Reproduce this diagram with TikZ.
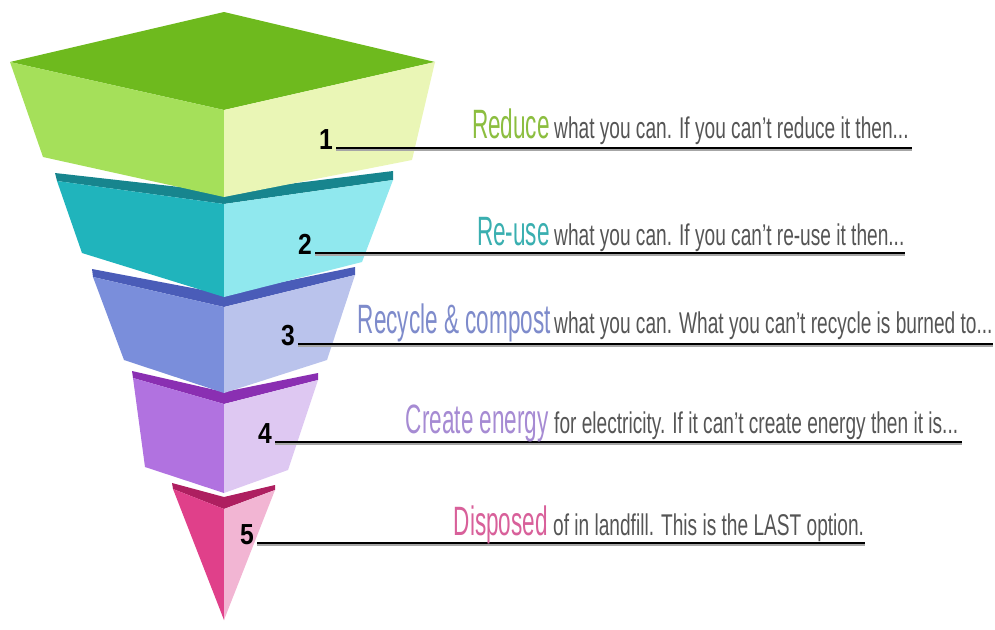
\documentclass[tikz,border=0pt]{standalone}
\usepackage{fontspec}
\setmainfont{Liberation Sans}
\newfontfamily\wordfont[FakeStretch=0.55]{Liberation Sans}
\newfontfamily\notefont[FakeStretch=0.637]{Liberation Sans}
\newfontfamily\numfont[FakeStretch=0.85]{Liberation Sans}

% layer colours: rim / left face / right face
\definecolor{gTop}{HTML}{6EBA1E}
\definecolor{gLeft}{HTML}{A5E05A}
\definecolor{gRight}{HTML}{EAF6B6}
\definecolor{tRim}{HTML}{17858E}
\definecolor{tLeft}{HTML}{20B4BC}
\definecolor{tRight}{HTML}{90E8EE}
\definecolor{bRim}{HTML}{4A5CB8}
\definecolor{bLeft}{HTML}{7A8EDB}
\definecolor{bRight}{HTML}{BAC3EC}
\definecolor{pRim}{HTML}{8A2FB2}
\definecolor{pLeft}{HTML}{B172E0}
\definecolor{pRight}{HTML}{DEC8F2}
\definecolor{kRim}{HTML}{AE1F60}
\definecolor{kLeft}{HTML}{E0408A}
\definecolor{kRight}{HTML}{F2B5D3}
% label colours
\definecolor{wGreen}{HTML}{8CBE40}
\definecolor{wTeal}{HTML}{3AAFB0}
\definecolor{wBlue}{HTML}{7E8BCB}
\definecolor{wPurple}{HTML}{A68BD3}
\definecolor{wPink}{HTML}{D8609A}
\definecolor{noteGray}{HTML}{555555}

\tikzset{
  face/.style={fill=#1, draw=none},
  word/.style={font=\wordfont\fontsize{41}{41}\selectfont, inner sep=0pt, anchor=base east},
  note/.style={font=\notefont\fontsize{30}{30}\selectfont, text=noteGray, inner sep=0pt, anchor=base west},
  num/.style={font=\numfont\bfseries\fontsize{29}{29}\selectfont, inner sep=0pt, anchor=base east},
  leader/.style={line width=2.2pt, black},
  leadershade/.style={line width=1.6pt, black!35}
}

\begin{document}
\begin{tikzpicture}[x=1pt, y=-1pt]
\useasboundingbox (0,0) rectangle (995,629);

% ---- level 5 (pink tip) ----
\fill[face=kRim]   (172,483) -- (224,497) -- (275,485) -- (275,490) -- (224,509) -- (173,489) -- cycle;
\fill[face=kLeft]  (173,489) -- (224,509) -- (224,620) -- cycle;
\fill[face=kRight] (224,509) -- (275,490) -- (224,620) -- cycle;

% ---- level 4 (purple) ----
\fill[face=pRim]   (132,371) -- (224,392) -- (318,373) -- (318,380) -- (224,404) -- (133,378) -- cycle;
\fill[face=pLeft]  (133,378) -- (224,404) -- (224,493) -- (145,467) -- cycle;
\fill[face=pRight] (224,404) -- (318,380) -- (288,470) -- (224,493) -- cycle;

% ---- level 3 (blue) ----
\fill[face=bRim]   (92,269) -- (224,294) -- (355,267) -- (355,275) -- (224,307) -- (93,277) -- cycle;
\fill[face=bLeft]  (93,277) -- (224,307) -- (224,393) -- (124,360) -- cycle;
\fill[face=bRight] (224,307) -- (355,275) -- (327,360) -- (224,393) -- cycle;

% ---- level 2 (teal) ----
\fill[face=tRim]   (55,173) -- (224,192) -- (393,171) -- (393,180) -- (224,204) -- (57,181) -- cycle;
\fill[face=tLeft]  (57,181) -- (224,204) -- (224,297) -- (82,253) -- cycle;
\fill[face=tRight] (224,204) -- (393,180) -- (362,262) -- (224,297) -- cycle;

% ---- level 1 (green top block) ----
\fill[face=gTop]   (224,12) -- (435,62) -- (224,110) -- (10,62) -- cycle;
\fill[face=gLeft]  (10,62) -- (224,110) -- (224,197) -- (43,157) -- cycle;
\fill[face=gRight] (224,110) -- (435,62) -- (412,160) -- (224,197) -- cycle;

% ---- numbers, leader lines and captions ----
\foreach \i/\sx/\ly/\ex in {1/336/148/912, 2/315/253/905, 3/298/344/993, 4/275/442/962, 5/257/543/865}{
  \coordinate (s\i) at (\sx,\ly);
  \coordinate (e\i) at (\ex,\ly);
  \node[num] (n\i) at ([xshift=-3pt, yshift=-1pt]s\i) {\i};
  \draw[leadershade] ([yshift=-2pt]s\i) -- ([yshift=-2pt]e\i);
  \draw[leader] (s\i) -- (e\i);
}

\node[word, text=wGreen]  (w1) at (550,138) {Reduce};
\node[note]               (t1) at (554,138) {what you can. If you can’t reduce it then...};
\node[word, text=wTeal]   (w2) at (550,245) {Re-use};
\node[note]               (t2) at (554,245) {what you can. If you can’t re-use it then...};
\node[word, text=wBlue]   (w3) at (551,333) {Recycle \& compost};
\node[note]               (t3) at (554,333) {what you can. What you can’t recycle is burned to...};
\node[word, text=wPurple] (w4) at (549,433) {Create energy};
\node[note]               (t4) at (554,433) {for electricity. If it can’t create energy then it is...};
\node[word, text=wPink]   (w5) at (548,535) {Disposed};
\node[note]               (t5) at (553,535) {of in landfill. This is the LAST option.};
\end{tikzpicture}
\end{document}
